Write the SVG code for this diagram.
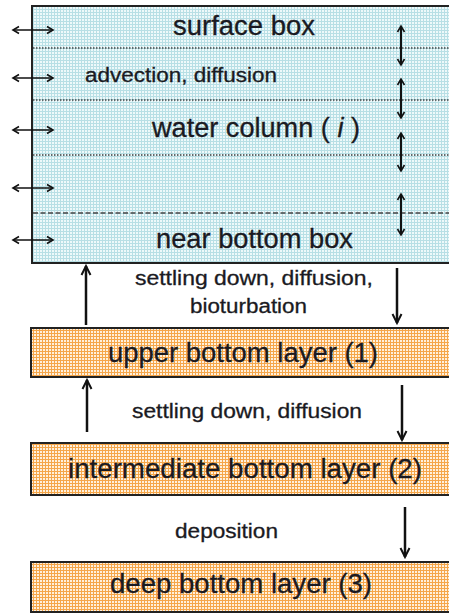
<svg xmlns="http://www.w3.org/2000/svg" width="449" height="614" viewBox="0 0 449 614">
  <defs>
    <pattern id="cyan" width="3" height="3" patternUnits="userSpaceOnUse">
      <rect width="3" height="3" fill="#eef9fa"/>
      <rect width="3" height="1" fill="#b8dfe5"/>
      <rect width="1" height="3" fill="#b8dfe5"/>
    </pattern>
    <pattern id="orange" width="3" height="3" patternUnits="userSpaceOnUse">
      <rect width="3" height="3" fill="#fff0dc"/>
      <rect width="3" height="1" fill="#f5a64a"/>
      <rect width="1" height="3" fill="#f5a64a"/>
    </pattern>
    <marker id="sm" markerUnits="userSpaceOnUse" markerWidth="10" markerHeight="10" refX="7" refY="4" orient="auto-start-reverse" viewBox="0 0 10 8">
      <path d="M1,0.5 L7,4 L1,7.5" fill="none" stroke="#111" stroke-width="1.6"/>
    </marker>
    <marker id="big" markerUnits="userSpaceOnUse" markerWidth="12" markerHeight="12" refX="10" refY="5" orient="auto" viewBox="0 0 12 10">
      <path d="M1,0.5 L10,5 L1,9.5" fill="none" stroke="#111" stroke-width="2"/>
    </marker>
  </defs>
  <style>
    .t { font-family: "Liberation Sans", Arial, sans-serif; fill: #1a1a22; stroke: #1a1a22; stroke-width: 0.3; }
    .lg { font-size: 27px; }
    .sm { font-size: 20px; }
    .div { stroke: #444; stroke-width: 1.5; }
    .dot { stroke-dasharray: 1.5 1.5; }
    .dash { stroke-dasharray: 5 2.5; }
    .lr { stroke: #111; stroke-width: 1.5; fill: none; marker-start: url(#sm); marker-end: url(#sm); }
    .ud { stroke-width: 2; }
    .bg { stroke: #111; stroke-width: 2.5; fill: none; marker-end: url(#big); }
    .box { stroke: #222; stroke-width: 2; }
  </style>

  <g id="water-column">
    <rect class="box" x="32" y="6" width="430" height="257" fill="url(#cyan)"/>
    <line class="div dot" x1="33" y1="48" x2="449" y2="48"/>
    <line class="div dot" x1="33" y1="100" x2="449" y2="100"/>
    <line class="div dot" x1="33" y1="155" x2="449" y2="155"/>
    <line class="div dash" x1="33" y1="213" x2="449" y2="213"/>
    <text class="t lg" x="173" y="35" textLength="142" lengthAdjust="spacingAndGlyphs">surface box</text>
    <text class="t sm" x="85" y="82" textLength="192" lengthAdjust="spacingAndGlyphs">advection, diffusion</text>
    <text class="t lg" x="152" y="137" textLength="208" lengthAdjust="spacingAndGlyphs">water column ( <tspan font-style="italic">i</tspan> )</text>
    <text class="t lg" x="156" y="248" textLength="197" lengthAdjust="spacingAndGlyphs">near bottom box</text>
  </g>

  <g id="upper-bottom-layer">
    <rect class="box" x="31" y="328" width="430" height="49" fill="url(#orange)"/>
    <text class="t lg" x="108" y="362" textLength="270" lengthAdjust="spacingAndGlyphs">upper bottom layer (1)</text>
  </g>

  <g id="intermediate-bottom-layer">
    <rect class="box" x="31" y="443" width="430" height="52" fill="url(#orange)"/>
    <text class="t lg" x="68" y="478" textLength="354" lengthAdjust="spacingAndGlyphs">intermediate bottom layer (2)</text>
  </g>

  <g id="deep-bottom-layer">
    <rect class="box" x="31" y="562" width="430" height="50" fill="url(#orange)"/>
    <text class="t lg" x="110" y="593" textLength="262" lengthAdjust="spacingAndGlyphs">deep bottom layer (3)</text>
  </g>

  <g id="labels">
    <text class="t sm" x="135" y="285" textLength="238" lengthAdjust="spacingAndGlyphs">settling down, diffusion,</text>
    <text class="t sm" x="190" y="313" textLength="117" lengthAdjust="spacingAndGlyphs">bioturbation</text>
    <text class="t sm" x="132" y="418" textLength="230" lengthAdjust="spacingAndGlyphs">settling down, diffusion</text>
    <text class="t sm" x="175" y="538" textLength="103" lengthAdjust="spacingAndGlyphs">deposition</text>
  </g>

  <g id="connectors">
    <line class="lr" x1="13" y1="30" x2="53" y2="30"/>
    <line class="lr" x1="13" y1="78" x2="53" y2="78"/>
    <line class="lr" x1="13" y1="130" x2="53" y2="130"/>
    <line class="lr" x1="13" y1="188" x2="53" y2="188"/>
    <line class="lr" x1="13" y1="240" x2="53" y2="240"/>
    <line class="lr ud" x1="401" y1="26" x2="401" y2="65"/>
    <line class="lr ud" x1="401" y1="79" x2="401" y2="118"/>
    <line class="lr ud" x1="401" y1="133" x2="401" y2="171"/>
    <line class="lr ud" x1="401" y1="194" x2="401" y2="235"/>
    <line class="bg" x1="86" y1="325" x2="86" y2="266"/>
    <line class="bg" x1="397" y1="268" x2="397" y2="323"/>
    <line class="bg" x1="87" y1="432" x2="87" y2="380"/>
    <line class="bg" x1="402" y1="385" x2="402" y2="440"/>
    <line class="bg" x1="405" y1="507" x2="405" y2="557"/>
  </g>
</svg>
